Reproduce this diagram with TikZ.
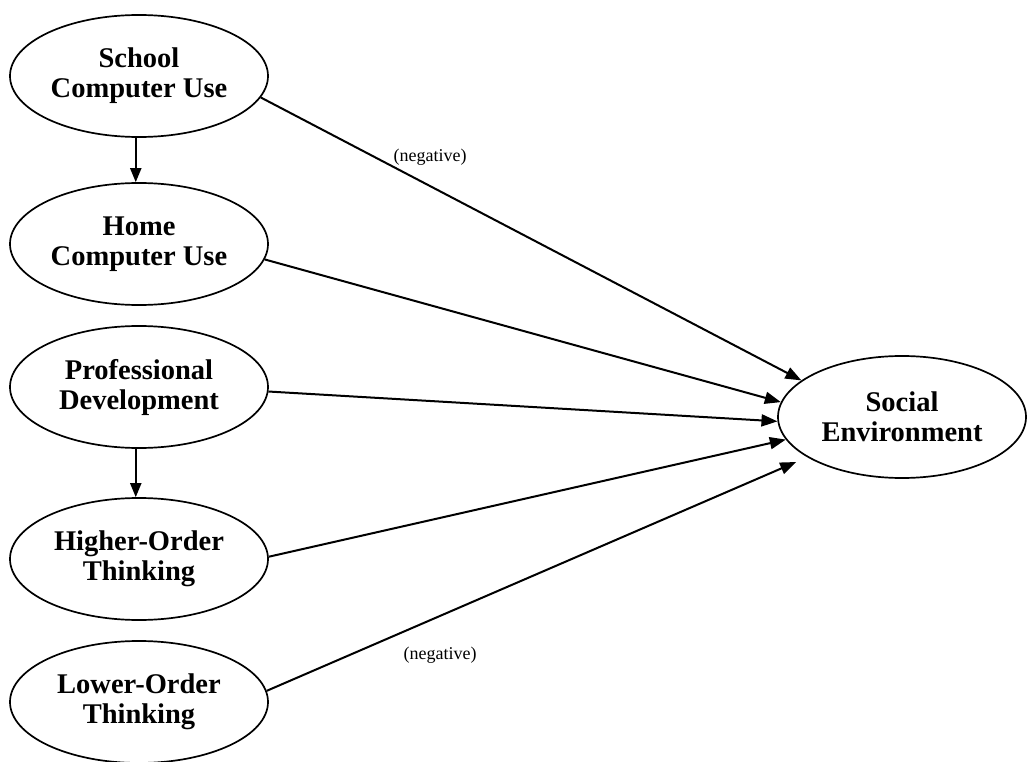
\documentclass[tikz,border=0pt]{standalone}
\usepackage{fontspec}
\setmainfont{Liberation Serif}
\usetikzlibrary{shapes.geometric,arrows.meta}
\begin{document}
\begin{tikzpicture}[x=1pt,y=-1pt,
  construct/.style={draw,line width=1.7pt,ellipse,minimum width=258pt,minimum height=122pt,inner sep=0pt,align=center,font=\fontsize{28.5}{30}\selectfont\bfseries},
  path/.style={line width=2pt,-{Triangle[length=16pt,width=12pt]}},
  down/.style={line width=2pt,-{Triangle[length=14pt,width=11pt]}},
  lbl/.style={font=\fontsize{18}{20}\selectfont}]
\useasboundingbox (0,0) rectangle (1028,762);
\node[construct] (school) at (139,76) {School\\Computer Use};
\node[construct] (home) at (139,244) {Home\\Computer Use};
\node[construct] (prof) at (139,387) {Professional\\Development};
\node[construct] (higher) at (139,559) {Higher-Order\\Thinking};
\node[construct] (lower) at (139,702) {Lower-Order\\Thinking};
\node[construct,minimum width=248pt] (soc) at (902,417) {Social\\Environment};
\draw[down] (school.-93) -- (home.93);
\draw[down] (prof.-93) -- (higher.93);
\draw[path] (school.-10) -- (soc.160.7);
\draw[path] (home.-7) -- (soc.173.6);
\draw[path] (prof.-2.7) -- (soc.182.3);
\draw[path] (higher.1.8) -- (soc.191.3);
\draw[path,shorten >=12pt] (lower.5.3) -- (soc.203.2);
\node[lbl] (neg1) at (430,157) {(negative)};
\node[lbl] (neg2) at (440,655) {(negative)};
\end{tikzpicture}
\end{document}
